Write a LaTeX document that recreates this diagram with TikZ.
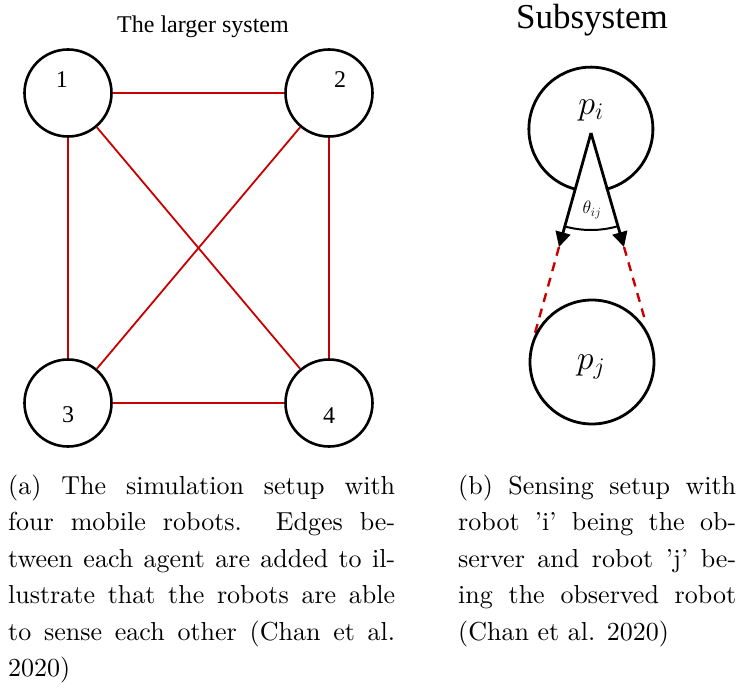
\RequirePackage{fix-cm}
\documentclass[tikz,border=0pt]{standalone}
\usepackage{fontspec}
\newfontfamily\timesf{Liberation Serif}
\newfontfamily\capfont{lmroman10-regular}[Extension=.otf, Ligatures=TeX]
\usetikzlibrary{arrows.meta}
\definecolor{edgered}{RGB}{200,0,0}
\begin{document}
\begin{tikzpicture}[x=1pt,y=-1pt,
  robot/.style={circle, draw=black, line width=2.6pt, minimum size=87pt, inner sep=0pt},
  bigrobot/.style={circle, line width=2.8pt, minimum size=124pt, inner sep=0pt},
  link/.style={draw=edgered, line width=1.8pt},
  numlabel/.style={font=\timesf\fontsize{24}{24}\selectfont, inner sep=0pt},
  sensearrow/.style={draw=black, line width=2.8pt, -{Triangle[length=15pt,width=15pt]}},
  sensedash/.style={draw=edgered, line width=2.4pt, dash pattern=on 9pt off 7pt},
  caption/.style={anchor=base west, inner sep=0pt, font=\capfont\fontsize{26}{36.5}\selectfont}
]
\useasboundingbox (0,0) rectangle (737,696);

% ---- left panel ----
\node[font=\timesf\fontsize{24}{24}\selectfont, inner sep=0pt] (title1) at (203,27) {The larger system};
\node[robot] (r1) at (68,93) {};
\node[robot] (r2) at (329,93) {};
\node[robot] (r3) at (68,403) {};
\node[robot] (r4) at (329,403) {};
\node[numlabel] (l1) at (62,80) {1};
\node[numlabel] (l2) at (340,80) {2};
\node[numlabel] (l3) at (68,415) {3};
\node[numlabel] (l4) at (329,416) {4};
\draw[link] (r1) -- (r2);
\draw[link] (r1) -- (r3);
\draw[link] (r1) -- (r4);
\draw[link] (r2) -- (r3);
\draw[link] (r2) -- (r4);
\draw[link] (r3) -- (r4);

% ---- right panel ----
\node[font=\timesf\fontsize{35}{35}\selectfont, inner sep=0pt] (title2) at (592,20) {Subsystem};
\node[bigrobot] (pi) at (592,128) {};
\draw[line width=2.8pt] (pi.254.7) arc[start angle=254.7, end angle=-76, radius=62pt];
\node[inner sep=0pt, font=\fontsize{34}{34}\selectfont] (pilabel) at (591,110) {$p_i$};
\coordinate (apex) at (591,133);
\coordinate (tipL) at (559,247);
\coordinate (tipR) at (624,247);
\coordinate (endL) at (535,333);
\coordinate (endR) at (645,320);
\draw[sensearrow] (apex) -- (tipL);
\draw[sensearrow] (apex) -- (tipR);
\draw[line width=2pt] (apex) ++(-105.7:97pt) arc[start angle=-105.7, end angle=-73.8, radius=97pt];
\node[inner sep=0pt, font=\fontsize{18}{18}\selectfont] (theta) at (592,210) {$\theta_{ij}$};
\draw[sensedash] (tipL) -- (endL);
\draw[sensedash] (tipR) -- (endR);
\node[bigrobot, draw=black] (pj) at (592,362) {};
\node[inner sep=0pt, font=\fontsize{34}{34}\selectfont] (pjlabel) at (591,367) {$p_j$};

% ---- captions ----
\node[caption] (capa) at (8,494) {\parbox[t]{387pt}{(a) The simulation setup with\linebreak four mobile robots.\ \ Edges be-\linebreak tween each agent are added to il-\linebreak lustrate that the robots are able\linebreak to sense each other (Chan et al.\linebreak 2020)}};
\node[caption] (capb) at (458,494) {\parbox[t]{278pt}{(b) Sensing setup with\linebreak robot 'i' being the ob-\linebreak server and robot 'j' be-\linebreak ing the observed robot\linebreak (Chan et al. 2020)}};
\end{tikzpicture}
\end{document}
